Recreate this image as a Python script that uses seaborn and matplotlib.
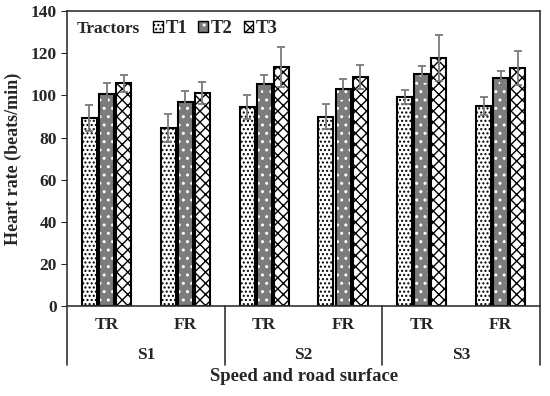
import matplotlib
matplotlib.use("Agg")
import matplotlib.pyplot as plt
import numpy as np
import pandas as pd
import seaborn as sns
from matplotlib.patches import Rectangle

# values
conditions = ["S1 TR", "S1 FR", "S2 TR", "S2 FR", "S3 TR", "S3 FR"]
surface_labels = ["TR", "FR", "TR", "FR", "TR", "FR"]
speed_labels = ["S1", "S2", "S3"]
tractors = ["T1", "T2", "T3"]

t1_mean = [89.2, 84.6, 94.3, 89.8, 99.2, 94.8]
t2_mean = [100.5, 96.8, 105.2, 103.0, 110.3, 108.1]
t3_mean = [105.7, 101.1, 113.6, 108.7, 117.6, 113.1]
t1_err = [6.3, 6.8, 5.7, 5.9, 3.2, 4.3]
t2_err = [5.2, 5.2, 4.6, 4.7, 3.8, 3.4]
t3_err = [4.1, 5.1, 9.5, 5.5, 11.0, 8.1]

df = pd.DataFrame({
    "cond": conditions * 3,
    "tractor": np.repeat(tractors, len(conditions)),
    "hr": t1_mean + t2_mean + t3_mean,
    "err": t1_err + t2_err + t3_err,
})

sns.set_style("ticks")
plt.rcParams["font.family"] = ["Liberation Serif", "DejaVu Serif"]
plt.rcParams["font.weight"] = "bold"
plt.rcParams["hatch.linewidth"] = 1.0

fig = plt.figure(figsize=(5.5, 3.96), dpi=100)
ax = fig.add_axes([0.122, 0.227, 0.860, 0.745])

fills = ["white", "#7c7c7c", "white"]
hatches = ["....", "..", "xxx"]

sns.barplot(data=df, x="cond", y="hr", hue="tractor", order=conditions,
            hue_order=tractors, errorbar=None, width=0.65, gap=0.12,
            palette=fills, edgecolor="black", linewidth=1.5, legend=False,
            ax=ax)

for cont, h, name in zip(ax.containers, hatches, tractors):
    sub = df[df["tractor"] == name]
    xs = [p.get_x() + p.get_width() / 2 for p in cont.patches]
    for p in cont.patches:
        p.set_hatch(h)
        if name == "T2":
            p._hatch_color = (1, 1, 1, 1)
    ax.errorbar(xs, sub["hr"].values, yerr=sub["err"].values, fmt="none",
                ecolor="#7a7a7a", elinewidth=1.3, capsize=3, capthick=1.3,
                zorder=5)

# legend: "Tractors" label followed by the three swatches
handles = []
for name, h, fc in zip(tractors, hatches, fills):
    r = Rectangle((0, 0), 1, 1, facecolor=fc, edgecolor="black", hatch=h, lw=1)
    if name == "T2":
        r._hatch_color = (1, 1, 1, 1)
    handles.append(r)
ax.text(0.02, 0.94, "Tractors", transform=ax.transAxes, fontsize=12.5,
        fontweight="bold", va="center")
ax.legend(handles, tractors, ncol=3, frameon=False, loc="center left",
          bbox_to_anchor=(0.182, 0.94), handlelength=0.5, handleheight=0.5,
          handletextpad=0.15, columnspacing=0.6, borderpad=0,
          borderaxespad=0, prop={"size": 13.5, "weight": "bold"})

ax.set_ylim(0, 140)
ax.set_xlim(-0.5, 5.5)
ax.set_yticks(range(0, 141, 20))
ax.set_xticks(range(len(conditions)))
ax.set_xticklabels(surface_labels)
ax.tick_params(axis="x", length=0, pad=8, labelsize=12.5)
ax.tick_params(axis="y", labelsize=12.5, direction="out", length=4)
for lab in ax.get_xticklabels() + ax.get_yticklabels():
    lab.set_fontweight("bold")

for s in ax.spines.values():
    s.set_linewidth(1.2)
    s.set_color("#333333")

# second level of the category axis
for x in [-0.5, 1.5, 3.5, 5.5]:
    ax.axvline(x, ymin=-0.2, ymax=0, clip_on=False, color="#333333", lw=1.2)
for i, s in enumerate(speed_labels):
    ax.text(2 * i + 0.5, -0.165, s, transform=ax.get_xaxis_transform(),
            ha="center", va="center", fontsize=12.5, fontweight="bold")

ax.set_xlabel("Speed and road surface", fontsize=13.5, fontweight="bold",
              labelpad=25)
ax.set_ylabel("Heart rate (beats/min)", fontsize=13, fontweight="bold",
              labelpad=6)

fig.savefig("out.png", dpi=100)
